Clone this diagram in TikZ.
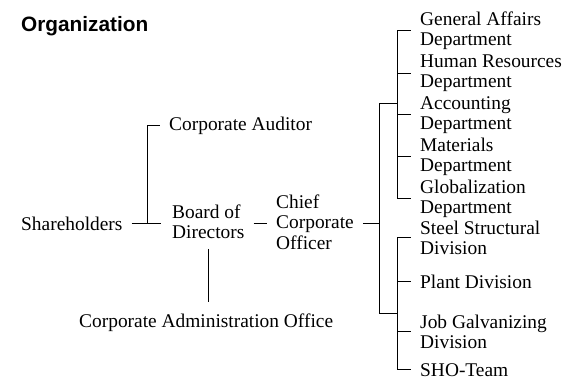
\documentclass[tikz,border=0pt]{standalone}
\usepackage{fontspec}
\setmainfont{Liberation Serif}
\newfontfamily\headfont{Liberation Sans}
\usetikzlibrary{calc}

\tikzset{
  unit/.style={anchor=base west, align=left, inner sep=0pt, font=\fontsize{19.4}{20.5}\selectfont},
  link/.style={line width=0.8pt},
}

\begin{document}
\begin{tikzpicture}[x=1pt,y=-1pt]
\useasboundingbox (0,0) rectangle (564,378);
\node[anchor=base west, inner sep=0pt, font=\headfont\bfseries\fontsize{20.8}{24}\selectfont] (title) at (21,31) {Organization};

% base = baseline of the last line
\node[unit] (share) at (21,230) {Shareholders};
\node[unit] (audit) at (169,130) {Corporate Auditor};
\node[unit] (board) at (172,238.5) {Board of\\Directors};
\node[unit] (admin) at (79,327) {Corporate Administration Office};
\node[unit] (cco) at (276,249) {Chief\\Corporate\\Officer};

\node[unit] (ga) at (420,45.5) {General Affairs\\Department};
\node[unit] (hr) at (420,87.5) {Human Resources\\Department};
\node[unit] (acc) at (420,129.5) {Accounting\\Department};
\node[unit] (mat) at (420,171.5) {Materials\\Department};
\node[unit] (glob) at (420,213.5) {Globalization\\Department};
\node[unit] (steel) at (420,254.5) {Steel Structural\\Division};
\node[unit] (plant) at (420,288) {Plant Division};
\node[unit] (job) at (420,348.5) {Job Galvanizing\\Division};
\node[unit] (sho) at (420,376) {SHO-Team};

% left side
\coordinate (fork) at ($(share.east)!.5!(share.east -| board.west)$);
\draw[link] ([xshift=9pt]share.east) -- ([xshift=-11pt]share.east -| board.west);
\draw[link] (fork) |- ([xshift=-9pt]audit.west);
\draw[link] ([xshift=9pt]share.east -| board.east) -- ([xshift=-9pt]share.east -| cco.west);
\draw[link] ([yshift=-10pt]board.south) -- ([yshift=11pt]board.south |- admin.north);

% right side
\coordinate (spine) at (379,0);
\coordinate (dep) at (397,0);
\coordinate (top) at (379,103);
\coordinate (bot) at (379,313);
\draw[link] ([xshift=9pt]share.east -| cco.east) -- (share.east -| spine);
\draw[link] (top -| dep) -- (top) -- (bot) -- (bot -| dep);

\draw[link] (ga.west -| dep) -- (glob.west -| dep);
\foreach \n in {ga,hr,acc,mat,glob}
  \draw[link] (\n.west -| dep) -- ([xshift=-9pt]\n.west);

\draw[link] (steel.west -| dep) -- (sho.west -| dep);
\foreach \n in {steel,plant,job,sho}
  \draw[link] (\n.west -| dep) -- ([xshift=-9pt]\n.west);
\end{tikzpicture}
\end{document}
